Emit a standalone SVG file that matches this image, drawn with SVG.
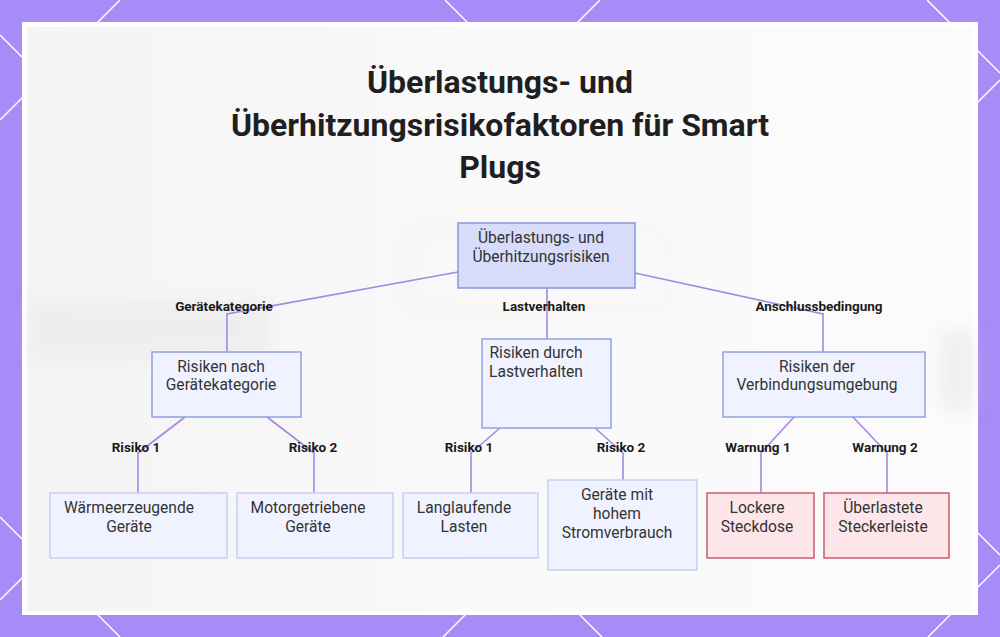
<svg xmlns="http://www.w3.org/2000/svg" width="1000" height="637" viewBox="0 0 1000 637">
<defs>
<style>
.title{font-family:Roboto,"Liberation Sans",sans-serif;font-weight:700;font-size:32px;fill:#1f1f1f;text-anchor:middle}
.nt{font-family:Roboto,"Liberation Sans",sans-serif;font-size:15.6px;fill:#333;text-anchor:middle}
.el{font-family:Roboto,"Liberation Sans",sans-serif;font-weight:700;font-size:13.5px;fill:#1a1a1a;text-anchor:middle}
.root{fill:#d8dcfb;stroke:#8897d8;stroke-width:1.5}
.mid{fill:#f0f3ff;stroke:#8fa2df;stroke-width:1.5}
.leaf{fill:#f0f3ff;stroke:#c6cff4;stroke-width:1.5}
.warn{fill:#fde6ea;stroke:#d05a6c;stroke-width:1.5}
.edge{fill:none;stroke:#a08be2;stroke-width:1.6}
.bg{stroke:#ffffff;stroke-width:1.5;fill:none}
</style>
<linearGradient id="pg" x1="0" y1="0" x2="1" y2="0">
<stop offset="0" stop-color="#f4f4f5"/>
<stop offset="0.5" stop-color="#f9f9fa"/>
<stop offset="1" stop-color="#fbfbfb"/>
</linearGradient>
<filter id="blur" x="-20%" y="-20%" width="140%" height="140%"><feGaussianBlur stdDeviation="8"/></filter>
</defs>
<g id="background">
<rect x="0" y="0" width="1000" height="637" fill="#a78bf6"/>
<line class="bg" x1="0" y1="120" x2="120" y2="0"/>
<line class="bg" x1="0" y1="600" x2="600" y2="0"/>
<line class="bg" x1="443" y1="637" x2="1000" y2="80"/>
<line class="bg" x1="928" y1="637" x2="1000" y2="565"/>
<line class="bg" x1="0" y1="35" x2="602" y2="637"/>
<line class="bg" x1="0" y1="517" x2="120" y2="637"/>
<line class="bg" x1="445" y1="0" x2="1000" y2="555"/>
<line class="bg" x1="927" y1="0" x2="1000" y2="73"/>
<rect x="22" y="22" width="956" height="593" fill="#ffffff"/>
<rect x="27" y="27" width="946" height="584" fill="url(#pg)"/>
<g filter="url(#blur)" opacity="0.35">
<rect x="30" y="300" width="240" height="60" fill="#e2e2e4"/>
<rect x="410" y="230" width="260" height="80" rx="20" fill="none" stroke="#e6e6e8" stroke-width="6"/>
<rect x="940" y="330" width="35" height="80" fill="#dcdcde"/>
</g>
</g>
<g id="title">
<text class="title" x="500" y="93">Überlastungs- und</text>
<text class="title" x="500" y="136">Überhitzungsrisikofaktoren für Smart</text>
<text class="title" x="500" y="178">Plugs</text>
</g>
<g id="connectors">
<path class="edge" d="M458,272 L227,314 L227,352"/>
<path class="edge" d="M547,288 L547,339"/>
<path class="edge" d="M635,273 L823,314 L823,352"/>
<path class="edge" d="M185,417 L138,453 L138,493"/>
<path class="edge" d="M267,417 L314,453 L314,493"/>
<path class="edge" d="M500,428 L471,453 L471,493"/>
<path class="edge" d="M595,428 L623,453 L623,480"/>
<path class="edge" d="M794,417 L761,453 L761,493"/>
<path class="edge" d="M853,417 L887,453 L887,493"/>
<text class="el" x="224" y="311">Gerätekategorie</text>
<text class="el" x="544" y="311">Lastverhalten</text>
<text class="el" x="819" y="311">Anschlussbedingung</text>
<text class="el" x="136" y="452">Risiko 1</text>
<text class="el" x="313" y="452">Risiko 2</text>
<text class="el" x="469" y="452">Risiko 1</text>
<text class="el" x="621" y="452">Risiko 2</text>
<text class="el" x="758" y="452">Warnung 1</text>
<text class="el" x="885" y="452">Warnung 2</text>
</g>
<g id="n-root">
<rect class="root" x="458" y="223" width="177" height="65"/>
<text class="nt" x="541" y="243">Überlastungs- und</text>
<text class="nt" x="541" y="262">Überhitzungsrisiken</text>
</g>
<g id="n-geraetekategorie">
<rect class="mid" x="152" y="352" width="149" height="65"/>
<text class="nt" x="221" y="372">Risiken nach</text>
<text class="nt" x="221" y="390">Gerätekategorie</text>
</g>
<g id="n-lastverhalten">
<rect class="mid" x="482" y="339" width="129" height="89"/>
<text class="nt" x="536" y="358">Risiken durch</text>
<text class="nt" x="536" y="377">Lastverhalten</text>
</g>
<g id="n-verbindung">
<rect class="mid" x="723" y="352" width="202" height="65"/>
<text class="nt" x="817" y="372">Risiken der</text>
<text class="nt" x="817" y="390">Verbindungsumgebung</text>
</g>
<g id="n-waerme">
<rect class="leaf" x="50" y="493" width="177" height="65"/>
<text class="nt" x="129" y="513">Wärmeerzeugende</text>
<text class="nt" x="129" y="532">Geräte</text>
</g>
<g id="n-motor">
<rect class="leaf" x="237" y="493" width="156" height="65"/>
<text class="nt" x="308" y="513">Motorgetriebene</text>
<text class="nt" x="308" y="532">Geräte</text>
</g>
<g id="n-langlaufend">
<rect class="leaf" x="403" y="493" width="135" height="65"/>
<text class="nt" x="464" y="513">Langlaufende</text>
<text class="nt" x="464" y="532">Lasten</text>
</g>
<g id="n-strom">
<rect class="leaf" x="548" y="480" width="149" height="90"/>
<text class="nt" x="617" y="500">Geräte mit</text>
<text class="nt" x="617" y="519">hohem</text>
<text class="nt" x="617" y="538">Stromverbrauch</text>
</g>
<g id="n-steckdose">
<rect class="warn" x="707" y="493" width="107" height="65"/>
<text class="nt" x="757" y="513">Lockere</text>
<text class="nt" x="757" y="532">Steckdose</text>
</g>
<g id="n-steckerleiste">
<rect class="warn" x="824" y="493" width="125" height="65"/>
<text class="nt" x="883" y="513">Überlastete</text>
<text class="nt" x="883" y="532">Steckerleiste</text>
</g>
</svg>
